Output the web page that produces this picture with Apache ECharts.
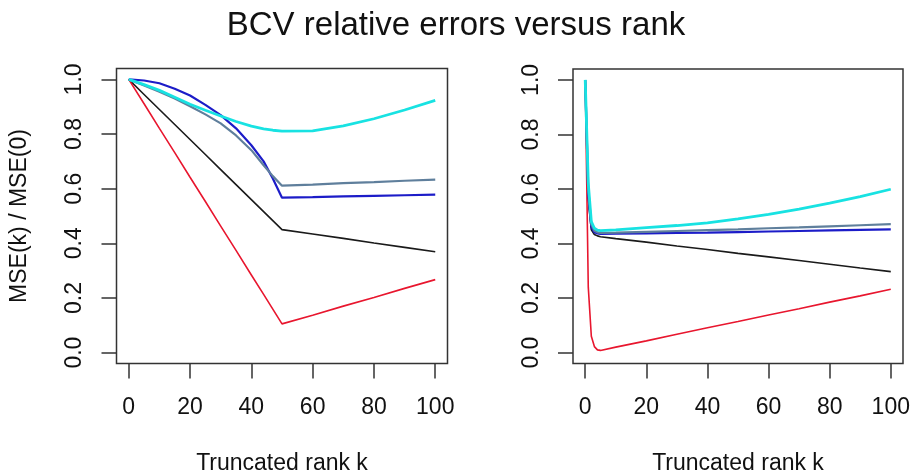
<!DOCTYPE html>
<html>
<head>
<meta charset="utf-8">
<script src="https://cdn.jsdelivr.net/npm/echarts@6/dist/echarts.min.js"></script>
<style>html,body{margin:0;padding:0;background:#fff;}#c{width:912px;height:472px;}</style>
</head>
<body>
<div id="c"></div>
<script>
// ---- data ----
const titleText = "BCV relative errors versus rank";
const xName = "Truncated rank k";
const yName = "MSE(k) / MSE(0)";
const xTicks = [0, 20, 40, 60, 80, 100];
const yTicks = [0, 0.2, 0.4, 0.6, 0.8, 1.0];

// left panel
const leftK     = [0, 5, 10, 15, 20, 25, 30, 35, 40, 44, 47, 50, 60, 70, 80, 90, 100];
const leftBlack = [1, 0.945, 0.89, 0.835, 0.78, 0.725, 0.67, 0.615, 0.56, 0.516, 0.483, 0.45, 0.434, 0.418, 0.401, 0.385, 0.369];
const leftRed   = [1, 0.911, 0.821, 0.732, 0.642, 0.553, 0.463, 0.374, 0.284, 0.213, 0.159, 0.105, 0.137, 0.170, 0.202, 0.235, 0.267];
const leftBlue  = [1, 0.996, 0.986, 0.966, 0.941, 0.907, 0.869, 0.821, 0.759, 0.70, 0.637, 0.567, 0.569, 0.572, 0.574, 0.576, 0.578];
const leftSteel = [1, 0.978, 0.955, 0.93, 0.902, 0.872, 0.839, 0.795, 0.741, 0.686, 0.646, 0.611, 0.615, 0.62, 0.624, 0.629, 0.633];
const leftCyan  = [1, 0.981, 0.96, 0.935, 0.909, 0.887, 0.866, 0.846, 0.829, 0.819, 0.814, 0.811, 0.812, 0.83, 0.856, 0.888, 0.923];

// right panel
const rightK     = [0, 1, 2, 3, 4, 5, 10, 20, 30, 40, 50, 60, 70, 80, 90, 100];
const rightBlack = [1, 0.56, 0.45, 0.433, 0.428, 0.425, 0.418, 0.405, 0.391, 0.378, 0.364, 0.351, 0.338, 0.324, 0.310, 0.297];
const rightRed   = [1, 0.24, 0.06, 0.022, 0.01, 0.008, 0.02, 0.043, 0.067, 0.091, 0.114, 0.138, 0.161, 0.185, 0.208, 0.232];
const rightBlue  = [1, 0.58, 0.46, 0.441, 0.437, 0.435, 0.436, 0.437, 0.439, 0.44, 0.442, 0.444, 0.446, 0.448, 0.45, 0.452];
const rightSteel = [1, 0.6, 0.47, 0.447, 0.441, 0.439, 0.44, 0.443, 0.446, 0.449, 0.452, 0.456, 0.459, 0.463, 0.467, 0.471];
const rightCyan  = [1, 0.62, 0.48, 0.456, 0.449, 0.447, 0.45, 0.458, 0.466, 0.476, 0.49, 0.507, 0.526, 0.548, 0.572, 0.599];

// ---- styles ----
const FONT = "Liberation Sans, Arial, Helvetica, sans-serif";
const AX = '#333';
const colors = {black: '#1a1a1a', red: '#e8162e', blue: '#1c1cc8', steel: '#5f7f9c', cyan: '#18e2e2'};
const widths = {black: 1.6, red: 1.6, blue: 2.2, steel: 2.2, cyan: 2.8};

function pairs(ks, vs) { return ks.map((k, i) => [k, vs[i]]); }

function xAxisFor(gi) {
  return {
    gridIndex: gi, type: 'value', min: -4, max: 104,
    name: xName, nameLocation: 'middle', nameGap: 89,
    nameTextStyle: {fontFamily: FONT, fontSize: 23, color: '#111'},
    axisLine: {show: false, onZero: false},
    splitLine: {show: false},
    axisTick: {show: true, inside: false, length: 15, customValues: xTicks, lineStyle: {color: AX, width: 1.5}},
    axisLabel: {show: true, margin: 33, customValues: xTicks, fontFamily: FONT, fontSize: 23, color: '#111',
      formatter: v => String(v)}
  };
}
function yAxisFor(gi, withName) {
  const a = {
    gridIndex: gi, type: 'value', min: -0.04, max: 1.04,
    axisLine: {show: false, onZero: false},
    splitLine: {show: false},
    axisTick: {show: true, inside: false, length: 15, customValues: yTicks, lineStyle: {color: AX, width: 1.5}},
    axisLabel: {show: true, margin: 30, rotate: 90, customValues: yTicks, fontFamily: FONT, fontSize: 23, color: '#111',
      formatter: v => v.toFixed(1)}
  };
  if (withName) {
    a.name = yName; a.nameLocation = 'middle'; a.nameGap = 85; a.nameRotate = 90;
    a.nameTextStyle = {fontFamily: FONT, fontSize: 23, color: '#111'};
  }
  return a;
}
function line(gi, key, ks, vs) {
  return {
    type: 'line', xAxisIndex: gi, yAxisIndex: gi, data: pairs(ks, vs),
    showSymbol: false, symbol: 'none', smooth: false, animation: false,
    lineStyle: {color: colors[key], width: widths[key]}
  };
}

const chart = echarts.init(document.getElementById('c'), null, {renderer: 'canvas'});
chart.setOption({
  animation: false,
  backgroundColor: '#fff',
  title: {text: titleText, left: 'center', top: 4,
    textStyle: {fontFamily: FONT, fontSize: 33, fontWeight: 'normal', color: '#111'}},
  grid: [
    {left: 116.5, top: 68.5, width: 331, height: 295, show: true, borderColor: AX, borderWidth: 1.5,
     backgroundColor: 'transparent', containLabel: false, outerBoundsMode: 'none'},
    {left: 573, top: 69, width: 330, height: 294.5, show: true, borderColor: AX, borderWidth: 1.5,
     backgroundColor: 'transparent', containLabel: false, outerBoundsMode: 'none'}
  ],
  xAxis: [xAxisFor(0), xAxisFor(1)],
  yAxis: [yAxisFor(0, true), yAxisFor(1, false)],
  series: [
    line(0, 'black', leftK, leftBlack),
    line(0, 'red', leftK, leftRed),
    line(0, 'blue', leftK, leftBlue),
    line(0, 'steel', leftK, leftSteel),
    line(0, 'cyan', leftK, leftCyan),
    line(1, 'black', rightK, rightBlack),
    line(1, 'red', rightK, rightRed),
    line(1, 'blue', rightK, rightBlue),
    line(1, 'steel', rightK, rightSteel),
    line(1, 'cyan', rightK, rightCyan)
  ]
});
</script>
</body>
</html>
